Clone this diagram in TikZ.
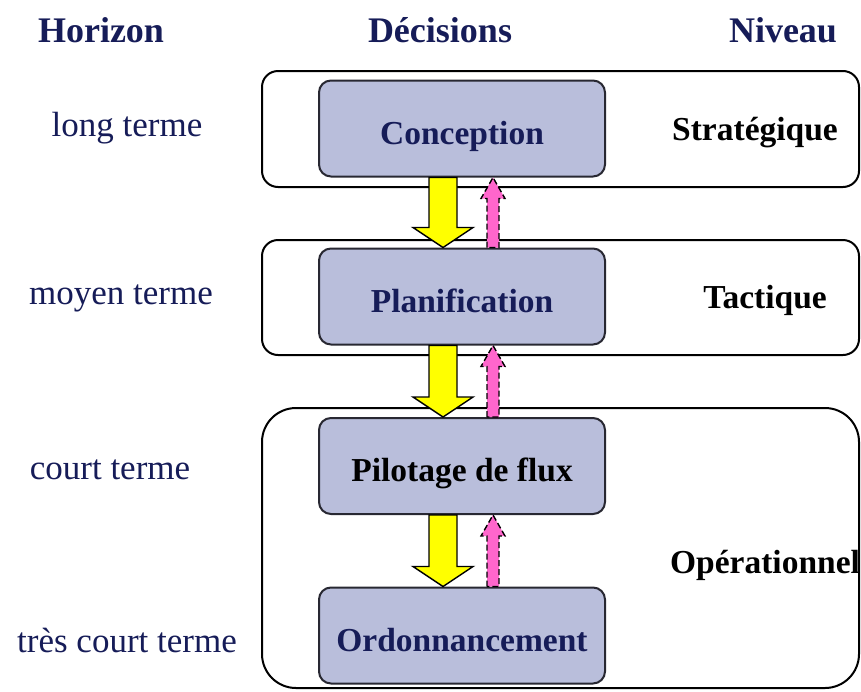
\documentclass[tikz,border=0pt]{standalone}
\usepackage{fontspec}
\setmainfont{Liberation Serif}
\usetikzlibrary{calc}
\definecolor{NavyText}{RGB}{22,28,88}
\definecolor{BoxFill}{RGB}{185,190,219}
\definecolor{BoxLine}{RGB}{40,40,50}
\definecolor{YellowArrow}{RGB}{255,255,0}
\definecolor{PinkArrow}{RGB}{255,102,204}

\newcommand{\downflow}[2]{%
  \draw[yelarr] let \p1=([xshift=-9.5pt]#1.south), \p2=([xshift=-9.5pt]#2.north) in
    (\x1-7pt,\y1) -- (\x1+7pt,\y1) -- (\x1+7pt,\y2+10pt) -- (\x1+15pt,\y2+10pt)
    -- (\x2,\y2) -- (\x1-15pt,\y2+10pt) -- (\x1-7pt,\y2+10pt) -- cycle;}
\newcommand{\upflow}[2]{%
  \draw[pinkarr] let \p1=([xshift=15.5pt]#1.south), \p2=([xshift=15.5pt]#2.north) in
    (\x2-3pt,\y2) -- (\x2-3pt,\y1-10.5pt) -- (\x2-6pt,\y1-10.5pt) -- (\x1,\y1)
    -- (\x2+6pt,\y1-10.5pt) -- (\x2+3pt,\y1-10.5pt) -- (\x2+3pt,\y2) -- cycle;}

\begin{document}
\begin{tikzpicture}[x=0.5pt,y=-0.5pt,
  level/.style={draw=black,line width=1pt,inner sep=0pt,minimum width=298.5pt},
  decision/.style={draw=BoxLine,fill=BoxFill,line width=1pt,rounded corners=6pt,inner sep=0pt,
    minimum width=143pt,minimum height=48pt,text height=17pt,text depth=1.5pt,
    font=\bfseries\fontsize{16.75}{20}\selectfont},
  header/.style={font=\bfseries\fontsize{18}{22}\selectfont,text=NavyText},
  horizon/.style={font=\fontsize{17.5}{21}\selectfont,text=NavyText},
  niveau/.style={font=\bfseries\fontsize{16.75}{20}\selectfont},
  yelarr/.style={draw=black,fill=YellowArrow,line width=0.7pt},
  pinkarr/.style={draw=black,fill=PinkArrow,line width=0.7pt,dash pattern=on 3pt off 1.5pt}
]
\useasboundingbox[fill=white] (0,0) rectangle (861,691);

\node[header] (hhor) at (101,30) {Horizon};
\node[header] (hdec) at (440,30) {Décisions};
\node[header] (hniv) at (783,30) {Niveau};

\node[level,rounded corners=8pt,minimum height=58pt] (strat) at (560.5,129) {};
\node[level,rounded corners=8pt,minimum height=57.5pt] (tact) at (560.5,297.5) {};
\node[level,rounded corners=17pt,minimum height=140pt] (oper) at (560.5,548) {};

\node[decision,text=NavyText] (conc) at (462,128.5) {Conception};
\node[decision,text=NavyText] (plan) at (462,296.5) {Planification};
\node[decision,text=black] (pilo) at (462,466) {Pilotage de flux};
\node[decision,text=NavyText] (ordo) at (462,635.5) {Ordonnancement};

\downflow{conc}{plan}
\downflow{plan}{pilo}
\downflow{pilo}{ordo}
\upflow{conc}{plan}
\upflow{plan}{pilo}
\upflow{pilo}{ordo}

\node[horizon] (tlong) at (127,128) {long terme};
\node[horizon] (tmoyen) at (121,298) {moyen terme};
\node[horizon] (tcourt) at (110,470) {court terme};
\node[horizon] (ttres) at (127,640) {très court terme};

\node[niveau] (nstrat) at (755,133) {Stratégique};
\node[niveau] (ntact) at (765,300) {Tactique};
\node[niveau] (noper) at (765,565) {Opérationnel};
\end{tikzpicture}
\end{document}
